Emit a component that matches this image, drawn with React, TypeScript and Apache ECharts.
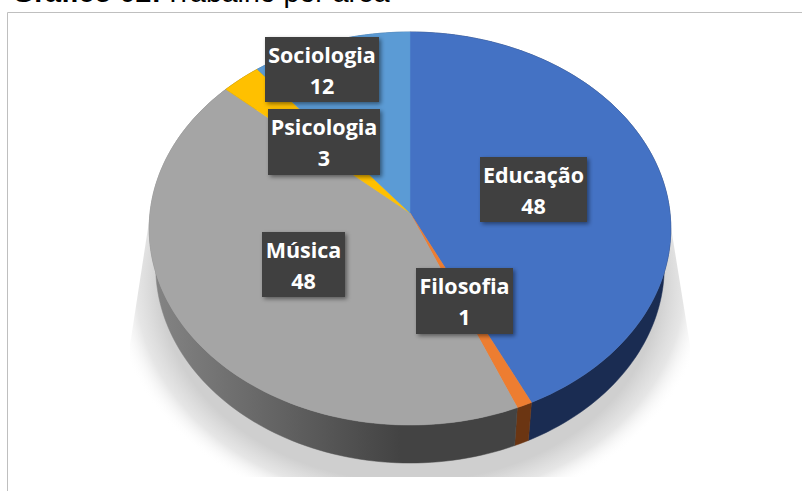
import React, { useEffect, useRef } from "react";
import * as echarts from "echarts";

const categories = ["Educação", "Filosofia", "Música", "Psicologia", "Sociologia"];
const values = [48, 1, 48, 3, 12];
const topColors = ["#4472C4", "#ED7D31", "#A5A5A5", "#FFC000", "#5B9BD5"];
const sideColors = ["#1A2C52", "#6B3512", "#444444", "#7F6000", "#2E5C8A"];
const labelBoxes = [
  [480, 157, 107, 65],
  [416, 268, 97, 66],
  [262, 232, 83, 65],
  [268, 109, 112, 66],
  [265, 37, 114, 65],
];

const total = values.reduce((a, b) => a + b, 0);
const CX = 410, CY = 213, A = 195.3, B = 260, K = 0.0789, DEPTH = 38, SHRINK = 0.975;

function rim(deg: number): [number, number] {
  const t = (deg * Math.PI) / 180;
  const u = Math.sin(t), v = Math.cos(t);
  const w = 1 + K * v;
  return [CX + (B * u) / w, CY - (A * v) / w];
}
function under(p: [number, number]): [number, number] {
  return [CX + (p[0] - CX) * SHRINK, p[1] + DEPTH];
}
function sweep(index: number): [number, number] {
  let s = 0;
  for (let i = 0; i < index; i++) s += values[i];
  return [(s / total) * 360, ((s + values[index]) / total) * 360];
}
function arcPoints(a: number, b: number) {
  const pts: [number, number][] = [];
  const n = Math.max(2, Math.ceil((b - a) / 1.5));
  for (let i = 0; i <= n; i++) pts.push(rim(a + ((b - a) * i) / n));
  return pts;
}

export default function App() {
  const ref = useRef<HTMLDivElement>(null);
  useEffect(() => {
    document.body.style.margin = "0";
    const chart = echarts.init(ref.current!, undefined, { renderer: "svg" });
    const seriesData = categories.map((name, i) => ({ name, value: [i, values[i]] }));
    chart.setOption({
      animation: false,
      backgroundColor: "#fff",
      graphic: [
        { type: "rect", z: 0, shape: { x: 7.5, y: 12.5, width: 800, height: 490 }, style: { fill: "#fff", stroke: "#BFBFBF", lineWidth: 1 } },
        {
          type: "polygon", z: 1,
          shape: { points: [[410, 34], [669, 215], [690, 345], [690, 477], [130, 477], [130, 345], [150, 215]] },
          style: {
            fill: {
              type: "radial", x: 0.5, y: 0.565, r: 0.55,
              colorStops: [
                { offset: 0, color: "rgba(207,207,207,1)" },
                { offset: 0.81, color: "rgba(207,207,207,1)" },
                { offset: 0.89, color: "rgba(224,224,224,0.8)" },
                { offset: 0.97, color: "rgba(255,255,255,0)" },
                { offset: 1, color: "rgba(255,255,255,0)" },
              ],
            },
          },
        },
        {
          type: "text", z: 30, x: 12, y: -23,
          style: {
            text: "{b|Gráfico 02:} {r|Trabalho por área}",
            rich: {
              b: { font: "bold 28.5px 'Liberation Sans', Arial", fill: "#000" },
              r: { font: "28.5px 'Liberation Sans', Arial", fill: "#000" },
            },
          },
        },
      ],
      series: [
        {
          type: "custom", coordinateSystem: "none", z: 5, data: seriesData, silent: true,
          renderItem(_p: any, api: any) {
            const i = api.value(0);
            const [a, b] = sweep(i);
            const top = arcPoints(a, b);
            const bottom = top.map(under).reverse();
            const fill = i === 2
              ? { type: "linear", global: true, x: 150, y: 0, x2: 400, y2: 0, colorStops: [{ offset: 0, color: "#858585" }, { offset: 1, color: "#434343" }] }
              : sideColors[i];
            return { type: "polygon", shape: { points: [...top, ...bottom] }, style: { fill, stroke: fill, lineWidth: 0.5 } };
          },
        },
        {
          type: "custom", coordinateSystem: "none", z: 6, data: seriesData, silent: true,
          renderItem(_p: any, api: any) {
            const i = api.value(0);
            const [a, b] = sweep(i);
            return {
              type: "polygon",
              shape: { points: [[CX, CY], ...arcPoints(a, b)] },
              style: { fill: topColors[i], stroke: topColors[i], lineWidth: 0.5 },
            };
          },
        },
        {
          type: "custom", coordinateSystem: "none", z: 7, data: seriesData, silent: true,
          renderItem(_p: any, api: any) {
            const i = api.value(0);
            const [x, y, w, h] = labelBoxes[i];
            return {
              type: "group",
              children: [
                { type: "rect", shape: { x, y, width: w, height: h }, style: { fill: "#404040", shadowBlur: 4, shadowOffsetX: 2, shadowOffsetY: 2, shadowColor: "rgba(0,0,0,0.45)" } },
                {
                  type: "text",
                  style: {
                    x: x + w / 2, y: y + h / 2, text: `${categories[i]}\n${api.value(1)}`,
                    align: "center", verticalAlign: "middle", lineHeight: 31,
                    font: "bold 21.5px 'Open Sans', 'Noto Sans', sans-serif", fill: "#fff",
                  },
                },
              ],
            };
          },
        },
      ],
    });
    return () => chart.dispose();
  }, []);
  return <div ref={ref} style={{ position: "absolute", left: 0, top: 0, width: 802, height: 491 }} />;
}
